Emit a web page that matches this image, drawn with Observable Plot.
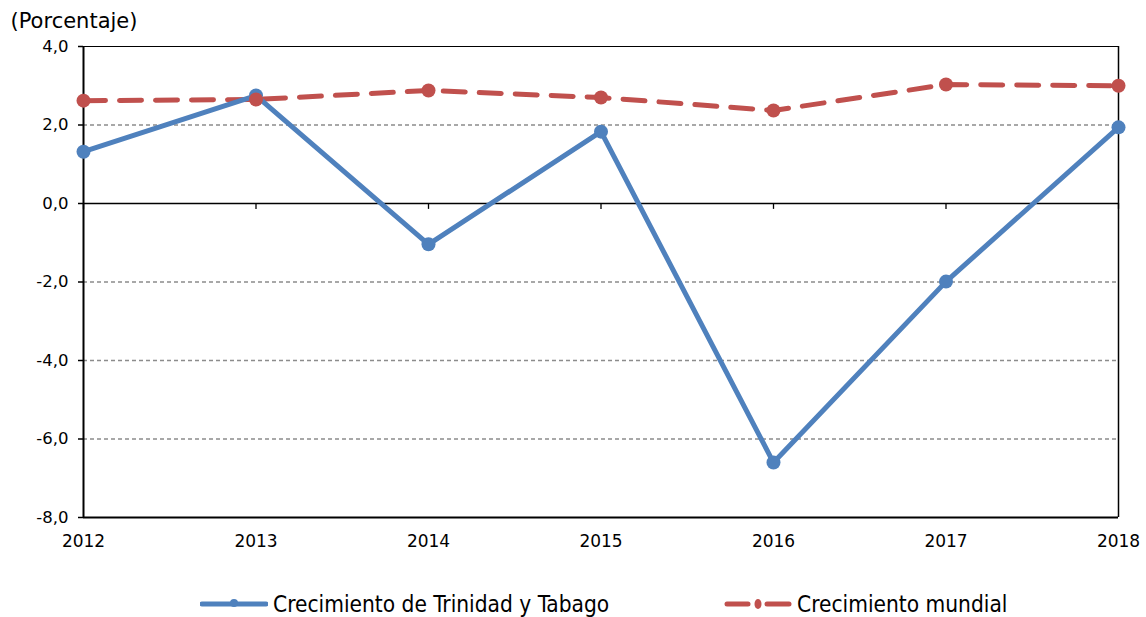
<!DOCTYPE html>
<html>
<head>
<meta charset="utf-8">
<script src="https://cdn.jsdelivr.net/npm/d3@7"></script>
<script src="https://cdn.jsdelivr.net/npm/@observablehq/plot@0.6"></script>
<style>
  html, body { margin: 0; padding: 0; background: #fff; }
  body { width: 1146px; height: 617px; position: relative; overflow: hidden; font-family: "DejaVu Sans", Verdana, sans-serif; }
  #chart { position: absolute; left: 0; top: 0; }
  .legend { position: absolute; top: 591px; font-family: "DejaVu Sans Condensed", "DejaVu Sans", sans-serif; font-size: 22.5px; line-height: 26px; color: #000; display: flex; align-items: center; white-space: nowrap; }
  .legend svg { margin-right: 5px; }
</style>
</head>
<body>
<div id="chart"></div>
<div class="legend" id="leg1" style="left:200px"></div>
<div class="legend" id="leg2" style="left:724px"></div>
<script>
const years = [2012, 2013, 2014, 2015, 2016, 2017, 2018];
const trinidad = [1.32, 2.75, -1.04, 1.83, -6.6, -1.99, 1.94];
const mundial = [2.62, 2.65, 2.88, 2.70, 2.37, 3.03, 3.0];
const yTicks = [4, 2, 0, -2, -4, -6, -8];
const gridValues = [2, -2, -4, -6];
const seriesNames = ["Crecimiento de Trinidad y Tabago", "Crecimiento mundial"];
const colors = ["#4F81BD", "#C0504D"];

const tt = years.map((y, i) => ({year: y, value: trinidad[i]}));
const mw = years.map((y, i) => ({year: y, value: mundial[i]}));
const fmt = d => d.toFixed(1).replace(".", ",");

const chart = Plot.plot({
  width: 1146,
  height: 560,
  marginLeft: 83,
  marginRight: 28,
  marginTop: 46,
  marginBottom: 43,
  style: {fontFamily: "DejaVu Sans, Verdana, sans-serif", fontSize: "16px", color: "#000", background: "#fff"},
  x: {domain: [2012, 2018], axis: null},
  y: {domain: [-8, 4], axis: null},
  marks: [
    Plot.ruleY(gridValues, {stroke: "#8c8c8c", strokeWidth: 1.3, strokeDasharray: "4,3"}),
    Plot.ruleY([4], {stroke: "#000", strokeWidth: 1}),
    Plot.ruleX([2018], {stroke: "#000", strokeWidth: 1.5}),
    Plot.ruleY([0], {stroke: "#000", strokeWidth: 1.5}),
    Plot.ruleX(years, {x: d => d, y1: 0, y2: -0.15, stroke: "#000", strokeWidth: 1.3}),
    Plot.ruleY([-8], {stroke: "#000", strokeWidth: 2}),
    Plot.ruleX([2012], {stroke: "#000", strokeWidth: 2}),
    Plot.axisY(yTicks, {tickSize: 5, tickPadding: 10, tickFormat: fmt, fill: "#000", stroke: "#000", strokeWidth: 1.5, fontSize: 16.5, label: null}),
    Plot.axisX(years, {tickSize: 0, tickPadding: 17, tickFormat: d => String(d), fill: "#000", fontSize: 17, label: null}),
    Plot.text(["(Porcentaje)"], {frameAnchor: "top-left", dx: -73, dy: -33, fontSize: 21, fill: "#000", textAnchor: "start"}),
    Plot.line(mw, {x: "year", y: "value", stroke: colors[1], strokeWidth: 5, strokeDasharray: "22,14", strokeLinecap: "round"}),
    Plot.line(tt, {x: "year", y: "value", stroke: colors[0], strokeWidth: 5, strokeLinejoin: "round"}),
    Plot.dot(tt, {x: "year", y: "value", r: 7, fill: colors[0]}),
    Plot.dot(mw, {x: "year", y: "value", r: 7, fill: colors[1]})
  ]
});
document.getElementById("chart").appendChild(chart);

function legendItem(el, name, color, dashed) {
  const ns = "http://www.w3.org/2000/svg";
  const svg = document.createElementNS(ns, "svg");
  svg.setAttribute("width", 68); svg.setAttribute("height", 20);
  if (dashed) {
    svg.innerHTML = `<line x1="3" y1="10" x2="24" y2="10" stroke="${color}" stroke-width="5" stroke-linecap="round"/>
      <line x1="43" y1="10" x2="65" y2="10" stroke="${color}" stroke-width="5" stroke-linecap="round"/>
      <ellipse cx="34" cy="10" rx="3.5" ry="5" fill="${color}"/>`;
  } else {
    svg.innerHTML = `<line x1="2" y1="10" x2="66" y2="10" stroke="${color}" stroke-width="5" stroke-linecap="round"/>
      <circle cx="34" cy="9" r="4" fill="${color}"/>`;
  }
  el.appendChild(svg);
  const span = document.createElement("span");
  span.textContent = name;
  el.appendChild(span);
}
legendItem(document.getElementById("leg1"), seriesNames[0], colors[0], false);
legendItem(document.getElementById("leg2"), seriesNames[1], colors[1], true);
</script>
</body>
</html>
